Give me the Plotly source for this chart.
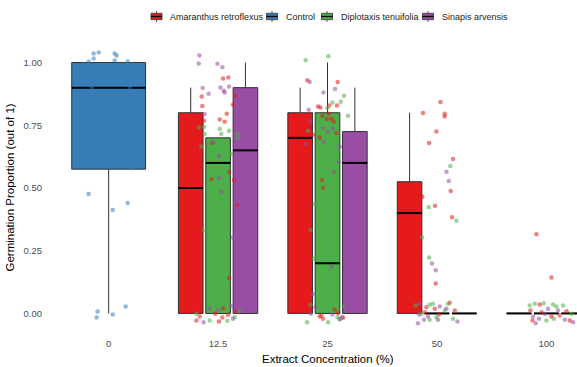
import plotly.graph_objects as go

# ---------------- data ----------------
categories = ["0", "12.5", "25", "50", "100"]
species = ["Amaranthus retroflexus", "Control", "Diplotaxis tenuifolia", "Sinapis arvensis"]
colors = {"Amaranthus retroflexus": "#E41A1C", "Control": "#377EB8",
          "Diplotaxis tenuifolia": "#4DAF4A", "Sinapis arvensis": "#984EA3"}

# box statistics per species: category index -> (q1, median, q3, lower fence, upper fence)
box_cats = {
    "Amaranthus retroflexus": [1, 2, 3, 4],
    "Control": [0],
    "Diplotaxis tenuifolia": [1, 2, 3, 4],
    "Sinapis arvensis": [1, 2, 3, 4],
}
box_q1 = {
    "Amaranthus retroflexus": [0, 0, 0, 0],
    "Control": [0.575],
    "Diplotaxis tenuifolia": [0, 0, 0, 0],
    "Sinapis arvensis": [0, 0, 0, 0],
}
box_median = {
    "Amaranthus retroflexus": [0.5, 0.7, 0.4, 0],
    "Control": [0.9],
    "Diplotaxis tenuifolia": [0.6, 0.2, 0, 0],
    "Sinapis arvensis": [0.65, 0.6, 0, 0],
}
box_q3 = {
    "Amaranthus retroflexus": [0.8, 0.8, 0.525, 0],
    "Control": [1.0],
    "Diplotaxis tenuifolia": [0.7, 0.8, 0, 0],
    "Sinapis arvensis": [0.9, 0.725, 0, 0],
}
box_lower = {
    "Amaranthus retroflexus": [0, 0, 0, 0],
    "Control": [0],
    "Diplotaxis tenuifolia": [0, 0, 0, 0],
    "Sinapis arvensis": [0, 0, 0, 0],
}
box_upper = {
    "Amaranthus retroflexus": [0.9, 0.9, 0.8, 0],
    "Control": [1.0],
    "Diplotaxis tenuifolia": [0.7, 1.0, 0, 0],
    "Sinapis arvensis": [1.0, 0.9, 0, 0],
}

# jittered observations (x = category index + jitter, y = proportion + jitter)
control_x = [-0.183, -0.137, -0.137, -0.091, 0.055, 0.073, 0.055, 0.174, -0.155, 0.192,
             0.210, -0.183, 0.174, 0.037, 0.155, -0.101, -0.110, 0.037]
control_y = [1.004, 1.016, 1.036, 1.040, 1.036, 1.028, 1.008, 1.004, 0.904, 0.904,
             0.580, 0.476, 0.440, 0.412, 0.028, 0.008, -0.016, -0.004]

amaranthus_x = [1.045, 1.094, 0.850, 0.856, 1.154, 1.136, 1.079, 1.015, 1.060, 0.948,
                1.100, 0.941, 1.145, 0.871, 1.176, 1.100, 1.045, 0.975, 0.802, 0.832,
                1.008, 1.039, 1.167, 1.090,
                1.816, 2.093, 1.913, 1.935, 2.087, 2.014, 1.953, 1.995, 2.036, 2.057,
                2.014, 1.929, 2.081, 1.867, 1.950, 1.959, 1.944, 1.959, 2.142, 2.066,
                2.096, 1.929,
                3.032, 2.873, 3.071, 3.071, 2.995, 2.928, 3.147, 3.126, 2.867, 2.983,
                3.138, 2.989, 2.904, 3.117, 2.980, 3.163, 2.888, 3.019,
                3.909, 4.046, 3.854, 3.873, 3.955, 4.046, 4.122, 4.184, 4.214, 3.940]
amaranthus_y = [0.936, 0.940, 0.865, 0.827, 0.868, 0.832, 0.796, 0.773, 0.764, 0.680,
                0.565, 0.535, 0.532, 0.768, 0.432, 0.141, 0.021, -0.001, -0.028, -0.012,
                -0.032, -0.016, 0.008, -0.005,
                0.929, 0.923, 0.825, 0.821, 0.829, 0.829, 0.788, 0.775, 0.776, 0.765,
                0.796, 0.701, 0.719, 0.712, 0.532, 0.501, -0.008, -0.021, -0.017, 0.016,
                0.001, -0.012,
                0.843, 0.799, 0.796, 0.785, 0.725, 0.679, 0.616, 0.488, 0.465, 0.429,
                0.383, 0.119, 0.025, 0.043, 0.019, 0.012, 0.005, -0.004,
                0.316, 0.143, 0.012, -0.028, 0.005, -0.012, -0.008, 0.009, -0.028, 0.036]

diplotaxis_x = [0.871, 0.878, 1.015, 1.030, 1.100, 0.823, 0.847, 1.179, 1.179, 1.115,
                0.871, 0.802, 0.923, 1.085, 1.152, 1.191, 0.990,
                1.801, 2.008, 2.151, 2.121, 2.188, 2.045, 1.999, 1.822, 1.846, 1.877,
                1.883, 1.813, 2.005, 2.091, 2.151, 1.844, 2.112,
                3.123, 2.925, 3.178, 2.864, 2.928, 2.803, 2.934, 2.964, 3.101, 2.858,
                2.934, 2.995, 3.147, 3.071,
                3.848, 3.894, 3.976, 4.061, 4.092, 4.153, 4.229, 4.000, 4.068]
diplotaxis_y = [0.743, 0.715, 0.735, 0.715, 0.728, 0.741, 0.665, 0.715, 0.699, 0.635,
                0.332, -0.001, -0.028, -0.029, -0.015, 0.009, 0.016,
                1.009, 1.025, 0.868, 0.844, 0.788, 0.841, 0.819, 0.728, 0.332, 0.219,
                0.436, -0.035, -0.035, -0.015, 0.029, 0.035, -0.021,
                0.588, 0.423, 0.369, 0.303, 0.223, 0.032, 0.035, 0.039, 0.039, -0.001,
                -0.025, -0.015, -0.021, 0.012,
                0.032, 0.039, 0.041, 0.036, 0.028, 0.032, -0.001, -0.028, -0.021]

sinapis_x = [0.829, 0.823, 0.994, 1.039, 0.859, 0.914, 1.021, 1.051, 1.060, 1.100,
             0.878, 1.008, 1.008, 0.953, 1.030, 1.136, 0.923, 0.999, 0.868, 1.136, 1.122,
             1.837, 2.069, 1.963, 1.828, 1.844, 1.959, 1.999, 2.050, 1.965, 1.801,
             2.112, 2.105, 2.059, 2.036, 1.867, 1.889, 1.846, 2.045, 2.112, 2.164, 2.133,
             3.087, 3.108, 2.955, 2.989, 2.843, 2.836, 2.827, 2.882, 3.026, 3.187,
             3.087, 3.010, 2.919,
             3.878, 3.933, 3.985, 4.015, 4.107, 4.168, 4.244, 3.903]
sinapis_y = [1.028, 0.996, 0.995, 0.981, 0.899, 0.876, 0.901, 0.888, 0.881, 0.905,
             0.795, 0.628, 0.541, 0.681, 0.485, 0.303, 0.019, 0.012, -0.035, -0.021, 0.029,
             0.923, 0.895, 0.881, 0.812, 0.765, 0.739, 0.723, 0.736, 0.683, 0.675,
             0.664, 0.603, 0.565, 0.188, 0.076, 0.025, -0.001, -0.004, -0.024, 0.029, -0.015,
             0.565, 0.528, 0.199, 0.172, 0.039, -0.004, -0.039, -0.025, 0.028, -0.032,
             0.019, -0.025, -0.012,
             -0.012, -0.021, -0.001, 0.019, 0.012, -0.025, -0.035, -0.039]

points = {
    "Amaranthus retroflexus": (amaranthus_x, amaranthus_y),
    "Control": (control_x, control_y),
    "Diplotaxis tenuifolia": (diplotaxis_x, diplotaxis_y),
    "Sinapis arvensis": (sinapis_x, sinapis_y),
}

# ---------------- layout helpers ----------------
W, H = 577, 367
ML, MR, MT, MB = 43, 0, 45, 36
PW, PH = W - ML - MR, H - MT - MB


def pxx(px):  # pixel x -> paper x
    return (px - ML) / PW


def pxy(py):  # pixel y -> paper y
    return (H - MB - py) / PH


dodge = {"Amaranthus retroflexus": -0.25, "Control": 0.0,
         "Diplotaxis tenuifolia": 0.0, "Sinapis arvensis": 0.25}
widths = {"Amaranthus retroflexus": 0.225, "Control": 0.675,
          "Diplotaxis tenuifolia": 0.225, "Sinapis arvensis": 0.225}

FONT = "Liberation Sans, Arial, sans-serif"
fig = go.Figure()

for sp in species:
    pos = [c + dodge[sp] for c in box_cats[sp]]
    fig.add_trace(go.Box(
        x=pos, q1=box_q1[sp], median=box_median[sp], q3=box_q3[sp],
        lowerfence=box_lower[sp], upperfence=box_upper[sp],
        width=widths[sp], name=sp, fillcolor=colors[sp],
        line=dict(color="#333333", width=1), whiskerwidth=0,
        boxpoints=False, hoverinfo="skip", showlegend=False,
    ))

# thicker median lines (ggplot style)
for sp in species:
    mx, my = [], []
    for c, m in zip(box_cats[sp], box_median[sp]):
        p = c + dodge[sp]
        mx += [p - widths[sp] / 2, p + widths[sp] / 2, None]
        my += [m, m, None]
    fig.add_trace(go.Scatter(x=mx, y=my, mode="lines",
                             line=dict(color="#000000", width=2),
                             showlegend=False, hoverinfo="skip"))

for sp in species:
    px_, py_ = points[sp]
    fig.add_trace(go.Scatter(x=px_, y=py_, mode="markers",
                             marker=dict(color=colors[sp], size=4.5, opacity=0.55),
                             showlegend=False, hoverinfo="skip"))

# ---------------- ggplot-like legend at top ----------------
legend_key_x = [156.5, 272, 327, 428]     # key centres (px)
legend_text_x = [168, 284, 339, 440]      # label starts (px)
ky = 16.5
shapes, annotations = [], []
for sp, kx, tx in zip(species, legend_key_x, legend_text_x):
    shapes.append(dict(type="rect", xref="paper", yref="paper",
                       x0=pxx(kx - 5.5), x1=pxx(kx + 5.5), y0=pxy(ky + 3.2), y1=pxy(ky - 3.2),
                       fillcolor=colors[sp], line=dict(color="#333333", width=0.8)))
    shapes.append(dict(type="line", xref="paper", yref="paper",
                       x0=pxx(kx - 5.5), x1=pxx(kx + 5.5), y0=pxy(ky), y1=pxy(ky),
                       line=dict(color="#000000", width=1.3)))
    for a, b in [(ky - 5.5, ky - 3.2), (ky + 3.2, ky + 5.5)]:
        shapes.append(dict(type="line", xref="paper", yref="paper",
                           x0=pxx(kx), x1=pxx(kx), y0=pxy(a), y1=pxy(b),
                           line=dict(color="#333333", width=0.8)))
    annotations.append(dict(text=sp, xref="paper", yref="paper", x=pxx(tx), y=pxy(ky),
                            xanchor="left", yanchor="middle", showarrow=False,
                            font=dict(size=9, color="#222222")))

annotations.append(dict(text="Extract Concentration (%)", xref="paper", yref="paper",
                        x=pxx(328), y=pxy(358.5), showarrow=False,
                        xanchor="center", yanchor="middle",
                        font=dict(size=11.5, color="#000000")))
annotations.append(dict(text="Germination Proportion (out of 1)", xref="paper", yref="paper",
                        x=pxx(9.5), y=pxy(188), showarrow=False, textangle=-90,
                        xanchor="center", yanchor="middle",
                        font=dict(size=11.5, color="#000000")))

fig.update_layout(
    width=W, height=H,
    margin=dict(l=ML, r=MR, t=MT, b=MB, autoexpand=False),
    paper_bgcolor="white", plot_bgcolor="white",
    font=dict(family=FONT, size=9, color="#222222"),
    showlegend=False,
    hovermode=False,
    xaxis=dict(range=[-0.6, 4.28], tickvals=[0, 1, 2, 3, 4], ticktext=categories,
               showgrid=False, zeroline=False, showline=False, automargin=False,
               ticks="outside", ticklen=4, tickcolor="rgba(0,0,0,0)",
               tickfont=dict(size=9.5, color="#4D4D4D")),
    yaxis=dict(range=[-0.07, 1.07], tickvals=[0, 0.25, 0.5, 0.75, 1.0],
               ticktext=["0.00", "0.25", "0.50", "0.75", "1.00"],
               showgrid=False, zeroline=False, showline=False, automargin=False,
               ticks="", tickfont=dict(size=9.5, color="#4D4D4D")),
    shapes=shapes,
    annotations=annotations,
)

# remove the browser's default 8px page margin so the figure sits at the window origin
fig.write_html("out.html",
               config={"displayModeBar": False, "staticPlot": True},
               post_script="document.body.style.margin='0';"
                           "document.documentElement.style.overflow='hidden';")
